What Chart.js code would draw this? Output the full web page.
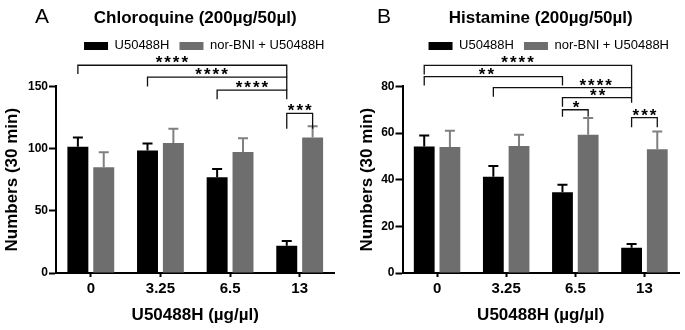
<!DOCTYPE html>
<html>
<head>
<meta charset="utf-8">
<script src="https://cdn.jsdelivr.net/npm/chart.js@4.4.0/dist/chart.umd.min.js"></script>
<style>
  html, body { margin: 0; padding: 0; background: #fff; }
  body { width: 685px; height: 330px; position: relative; overflow: hidden; }
  .panel { position: absolute; top: 0; height: 330px; }
  #panelA { left: 0; width: 342px; }
  #panelB { left: 355px; width: 330px; }
</style>
</head>
<body>
<div class="panel" id="panelA"><canvas id="chartA"></canvas></div>
<div class="panel" id="panelB"><canvas id="chartB"></canvas></div>
<script>
const categories = ['0', '3.25', '6.5', '13'];
const seriesNames = ['U50488H', 'nor-BNI + U50488H'];

// A - chloroquine
const chloroU50 = [101.5, 98.5, 77, 22];
const chloroU50Err = [7.5, 5.5, 6.7, 3.8];
const chloroNorBni = [85, 104.5, 97.3, 109];
const chloroNorBniErr = [12, 11.5, 11, 9];
const chloroTicks = [0, 50, 100, 150];

// B - histamine
const histU50 = [54.2, 41.3, 34.6, 10.8];
const histU50Err = [4.8, 4.6, 3.2, 1.6];
const histNorBni = [54, 54.5, 59.3, 53.1];
const histNorBniErr = [7, 4.8, 7.2, 7.6];
const histTicks = [0, 20, 40, 60, 80];

// brackets: [fromCat, fromSeries, toCat, toSeries, level, leftDrop, rightDrop, stars, starAt]
const chloroBrackets = [
  [0, 0, 3, 0, 167, 160, 157.4, '****', 0.45],
  [1, 0, 3, 0, 157.4, 150, 147, '****', 0.46],
  [2, 0, 3, 0, 147, 139.6, 139.6, '****', 0.5],
  [3, 0, 3, 1, 128.3, 116, 116, '***', 0.5]
];
const histBrackets = [
  [0, 0, 3, 0, 89.0, 85.1, 79.5, '****', 0.45],
  [0, 0, 2, 0, 84.2, 80.4, 80.4, '**', 0.45],
  [1, 0, 3, 0, 79.5, 75.6, 75.2, '****', 0.74],
  [2, 0, 3, 0, 75.2, 71.3, 73, '**', 0.51],
  [2, 0, 2, 1, 70.0, 67.0, 67.0, '*', 0.53],
  [3, 0, 3, 1, 66.6, 62.5, 62.5, '***', 0.5]
];

const FONT = '"Liberation Sans", Arial, Helvetica, sans-serif';
Chart.defaults.font.family = FONT;
Chart.defaults.color = '#000';

const BLACK = '#000000';
const GRAY = '#6e6e6e';

const marks = {
  id: 'marks',
  beforeInit(chart) {
    const fit = chart.legend.fit;
    const gap = chart.options.plugins.marks.legendGap;
    chart.legend.fit = function () { fit.call(this); this.height += gap; };
  },
  afterDatasetsDraw(chart, args, opts) {
    const ctx = chart.ctx;
    const y = chart.scales.y;
    ctx.save();
    // error bars (upper only)
    opts.errors.forEach((errs, d) => {
      const meta = chart.getDatasetMeta(d);
      const vals = chart.data.datasets[d].data;
      ctx.strokeStyle = opts.errorColors[d];
      ctx.lineWidth = 2;
      meta.data.forEach((bar, i) => {
        const top = y.getPixelForValue(vals[i] + errs[i]);
        ctx.beginPath();
        ctx.moveTo(bar.x, bar.y);
        ctx.lineTo(bar.x, top);
        ctx.moveTo(bar.x - 5, top);
        ctx.lineTo(bar.x + 5, top);
        ctx.stroke();
      });
    });
    // significance brackets
    ctx.strokeStyle = '#111';
    ctx.lineWidth = 1.3;
    ctx.fillStyle = '#000';
    ctx.font = 'bold 17px ' + FONT;
    ctx.letterSpacing = '2px';
    ctx.textAlign = 'center';
    ctx.textBaseline = 'alphabetic';
    const desc = ctx.measureText('*').actualBoundingBoxDescent;
    opts.brackets.forEach(b => {
      const x1 = chart.getDatasetMeta(b[1]).data[b[0]].x;
      const x2 = chart.getDatasetMeta(b[3]).data[b[2]].x;
      const ly = y.getPixelForValue(b[4]);
      ctx.beginPath();
      ctx.moveTo(x1, y.getPixelForValue(b[5]));
      ctx.lineTo(x1, ly);
      ctx.lineTo(x2, ly);
      ctx.lineTo(x2, y.getPixelForValue(b[6]));
      ctx.stroke();
      ctx.fillText(b[7], x1 + (x2 - x1) * b[8] + 1, ly - 2 - desc);
    });
    ctx.letterSpacing = '0px';
    // panel letter
    ctx.font = '21px ' + FONT;
    ctx.textBaseline = 'middle';
    ctx.fillText(opts.letter, opts.letterX, 17);
    ctx.restore();
  }
};

function makePanel(id, letter, letterX, title, u50, u50Err, nor, norErr, ticks, brackets, yWidth, padRight) {
  return new Chart(document.getElementById(id), {
    type: 'bar',
    data: {
      labels: categories,
      datasets: [
        { label: seriesNames[0], data: u50, backgroundColor: BLACK, borderWidth: 0,
          categoryPercentage: 0.743, barPercentage: 0.81 },
        { label: seriesNames[1], data: nor, backgroundColor: GRAY, borderWidth: 0,
          categoryPercentage: 0.743, barPercentage: 0.81 }
      ]
    },
    options: {
      responsive: true,
      maintainAspectRatio: false,
      animation: false,
      layout: { padding: { left: 0, right: padRight, top: 0, bottom: 0 } },
      plugins: {
        title: {
          display: true, text: title, fullSize: false, color: '#000',
          font: { size: 17, weight: 'bold' }, padding: { top: 8, bottom: 1 }
        },
        legend: {
          align: 'end',
          labels: { boxWidth: 24, boxHeight: 8, padding: 10, color: '#000', font: { size: 13 } }
        },
        tooltip: { enabled: false },
        marks: {
          legendGap: 24, letter: letter, letterX: letterX,
          errors: [u50Err, norErr], errorColors: ['#000', '#808080'],
          brackets: brackets
        }
      },
      scales: {
        x: {
          afterFit: s => { s.height = 57; },
          border: { color: '#000', width: 2 },
          grid: { offset: false, drawOnChartArea: false, tickLength: 4, tickWidth: 2, tickColor: '#000' },
          ticks: { color: '#000', font: { size: 15, weight: 'bold' }, padding: 3 },
          title: { display: true, text: 'U50488H (µg/µl)', color: '#000',
                   font: { size: 17, weight: 'bold' }, padding: { top: 4, bottom: 4 } }
        },
        y: {
          min: ticks[0], max: ticks[ticks.length - 1],
          afterBuildTicks: s => { s.ticks = ticks.map(v => ({ value: v })); },
          afterFit: s => { s.width = yWidth; },
          border: { color: '#000', width: 2 },
          grid: { drawOnChartArea: false, tickLength: 7, tickWidth: 2, tickColor: '#000' },
          ticks: { color: '#000', font: { size: 12, weight: 'bold' }, padding: 1 },
          title: { display: true, text: 'Numbers (30 min)', color: '#000',
                   font: { size: 17, weight: 'bold' }, padding: { top: 2, bottom: 0 } }
        }
      }
    },
    plugins: [marks]
  });
}

makePanel('chartA', 'A', 42, 'Chloroquine (200µg/50µl)', chloroU50, chloroU50Err, chloroNorBni, chloroNorBniErr,
  chloroTicks, chloroBrackets, 56, 7.5);
makePanel('chartB', 'B', 29, 'Histamine (200µg/50µl)', histU50, histU50Err, histNorBni, histNorBniErr,
  histTicks, histBrackets, 47.5, 6);
</script>
</body>
</html>
